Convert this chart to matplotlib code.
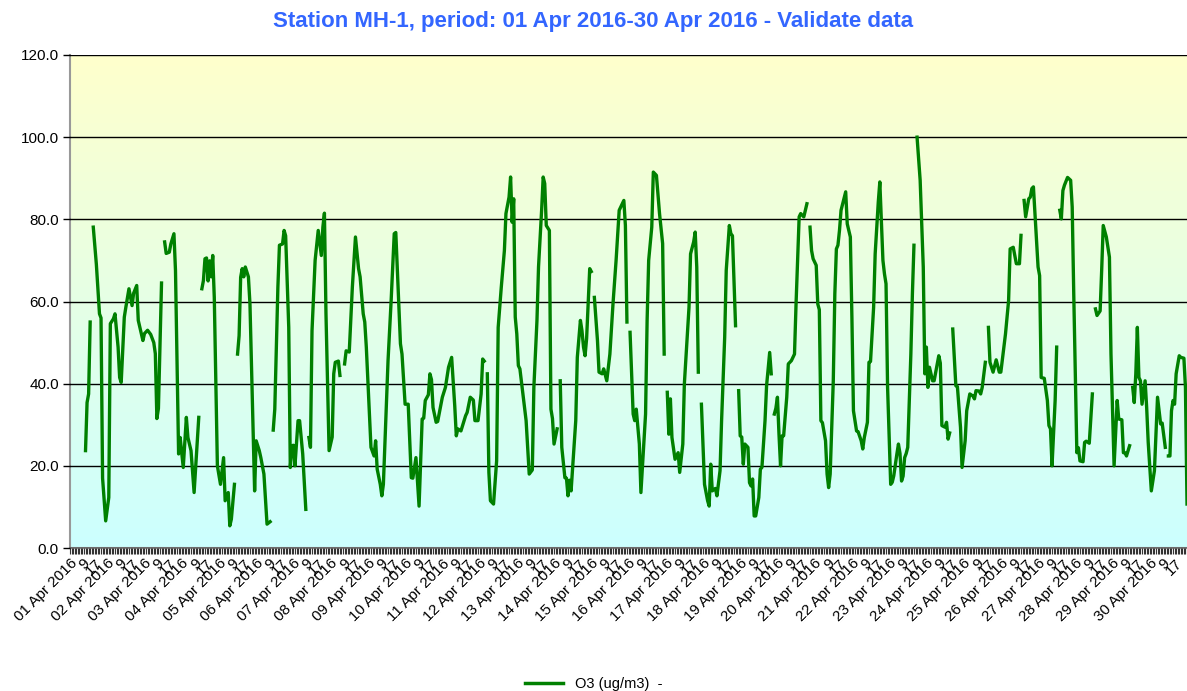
import numpy as np
import matplotlib
matplotlib.use('Agg')
import matplotlib.pyplot as plt
from matplotlib.colors import LinearSegmentedColormap
from matplotlib.lines import Line2D

nan = float('nan')

# hourly O3 readings, hour 0 = 01 Apr 2016 01:00 ; nan = missing hour (gap in line)
hours = [10, 11, 12, 13, 14,
         15, 17, 19, 20, 21, 23, 25, 26, 28, 29, 31, 32, 33, 35, 36, 38, 40, 41, 43, 44, 47, 48, 50, 52, 54, 55, 56, 57, 59, 60,
         61, 62, 64, 65, 67, 68, 70, 71, 73, 75, 76, 78, 80, 83, 84,
         85, 86, 87, 88, 89, 90, 91, 92, 93, 95, 97, 99, 100, 102, 103, 104, 106, 107,
         108, 109, 110, 111, 112, 113, 115, 116, 119, 120, 122, 123, 125, 127, 129, 130,
         131, 132, 134, 135, 137, 138, 139, 141, 142, 143, 144, 145, 147, 148, 150, 152, 153,
         154, 155, 156, 158, 160, 162, 163, 164, 165, 167, 169, 170, 171, 173, 174, 175,
         177, 178, 180, 182, 184, 186, 187, 189, 190, 191, 194, 196, 197, 198, 200, 201, 202, 205, 207, 209, 210, 213, 214,
         216, 218, 220, 221, 223, 225, 227, 228, 229, 231, 232, 233, 234, 236, 237, 240, 242, 244, 246, 248, 249, 250, 252,
         255, 256, 258, 260, 261, 263, 265, 266, 267, 268,
         269, 270, 271, 273, 275, 276, 278, 280, 281, 283, 284, 285, 286, 287, 288, 289, 290, 294, 296, 298, 299, 301, 302,
         304, 305, 306, 307, 309, 310, 311, 312, 314, 315,
         316, 317, 319, 320, 321, 322, 323, 326, 327, 329, 330, 331, 332, 333, 335, 336, 337,
         338, 340, 341, 343, 344, 346, 348, 350, 352, 354, 355, 357, 358, 359, 360,
         361, 363, 364, 365, 367, 368, 371, 372, 373, 375, 376, 378, 380, 382, 383, 384,
         385, 386, 387, 388, 390, 392, 393, 395, 396, 399, 400, 402, 403, 404, 405, 406,
         407, 409, 411, 412, 413, 414, 416, 417, 419, 420, 422, 423, 425, 426, 427, 429, 430,
         431, 432, 433, 434, 435, 437, 438, 439, 440, 441, 442, 444, 445, 446, 448, 449, 451, 452, 453,
         454, 455, 456, 457, 458, 459, 460, 462, 463, 465, 467, 468, 470, 471, 473, 475, 476,
         477, 478, 479, 481, 482, 483, 484, 485, 487, 488, 489, 490, 492, 493, 494, 495, 496, 497, 500, 501, 503, 504,
         505, 507, 508, 510, 511, 512, 514, 515, 516, 518, 519, 521, 522, 524, 525, 526, 527, 529, 530, 531, 533, 534,
         535, 536, 537, 538, 539, 540, 542, 543, 544, 545,
         546, 548, 550, 551, 552, 553, 554, 556, 557, 559, 560, 561, 562, 564, 565, 566, 567, 568,
         569, 571, 572, 574, 575, 577, 578, 580, 582, 583, 584, 586, 587, 588, 590, 591,
         592, 593, 595, 597, 599, 600, 603, 605, 606, 608, 610, 612, 613, 614,
         615, 616, 618, 619, 620, 621, 624, 625, 626, 628, 630, 631, 632, 633, 635, 636, 637,
         638, 639, 640, 641, 643, 645, 646, 647, 649, 650, 651, 653, 654, 655, 657, 659, 660,
         661, 662, 664, 665, 666, 668, 670, 671, 673, 675, 676, 678, 679, 680, 681, 683, 684,
         685, 686, 687, 688, 689, 690, 691, 693, 694, 695, 697, 699, 701, 703, 704, 706, 707,
         708, 709, 710, 711, 712, 713, 715, 716, 718, 719, 720]

o3 = [23.7, 35.4, 37.5, 55, nan,
      78.1, 69, 57, 56, 17, 6.6, 12.3, 54.6, 55.8, 57, 48.9, 41.5, 40.3, 56.2, 58.6, 63.1, 59, 62, 63.9, 55.4, 50.5, 52.2, 53, 52, 50, 47.3, 31.5, 34, 64.5, nan,
      74.5, 71.7, 72, 74, 76.5, 67.5, 22.9, 26.9, 19.6, 31.8, 26.9, 23.7, 13.5, 31.8, nan,
      63.1, 65.1, 70.4, 70.6, 65, 69.9, 66, 71.2, 61, 20, 15.5, 22, 11.5, 13.5, 5.4, 7, 15.5, nan,
      47.2, 51.7, 65.9, 68, 66, 68.4, 66, 59.4, 13.9, 26.1, 23.7, 22, 18, 5.8, 6.4, nan,
      28.7, 33.8, 63.5, 73.7, 74, 77.3, 76, 53.7, 19.6, 24.9, 25, 20, 31, 31, 22.9, 9.4, nan,
      26.9, 24.5, 52.9, 70, 77.3, 71.2, 78.1, 81.5, 57, 23.7, 27, 42.4, 45.2, 45.5, 42, nan,
      44.8, 48, 47.7, 63.5, 75.7, 68, 66, 57, 55, 48.9, 24.5, 22.4, 26.1, 19.2, 15.5, 12.7, 15.5, 45.6, 60.2, 76.5, 76.8, 49.7, 47.2,
      35, 35, 17.1, 17, 22, 10.2, 31.4, 31.6, 35.9, 37.3, 42.4, 41, 34.2, 30.6, 30.8, 36.7, 39.1, 44, 46.4, 34.6, 27.3, 29, 28.5,
      32.2, 33, 36.7, 36, 31, 31, 37.5, 46, 45.5, nan,
      42.4, 18.4, 11.5, 10.7, 21.2, 53.7, 63.5, 72.4, 81.4, 85.4, 90.3, 79.3, 85, 56.2, 52.1, 44.4, 43.6, 31, 18, 19, 39.1, 55.4, 68.4,
      82.2, 90.3, 88.7, 78.5, 77.3, 33.8, 31.5, 25.3, 29, nan,
      40.7, 24.5, 17.1, 17, 12.7, 16.5, 13.9, 31, 46.4, 55.4, 52.9, 48.9, 46.8, 51, 68, 67.3, nan,
      61, 50.5, 42.8, 42.4, 43.6, 40.7, 47.2, 59.4, 70, 82.2, 83, 84.6, 78.5, 55, nan,
      52.5, 32.6, 31, 33.8, 25.3, 13.5, 32.6, 55.4, 70, 78.1, 91.5, 90.7, 81.4, 74.1, 47.2, nan,
      37.9, 27.7, 36.3, 26.9, 21.6, 23.2, 18.4, 25.3, 39.9, 58.6, 71.6, 74.5, 76.9, 68.4, 42.8, nan,
      35, 15.5, 11.5, 10.2, 20.4, 13.9, 14.5, 12.7, 18.8, 31, 51.3, 67.6, 78.5, 76.5, 76, 54.1, nan,
      38.3, 27.3, 27, 20.4, 25.3, 24.5, 15.9, 15.1, 16.8, 7.8, 7.8, 12.3, 19.2, 19.6, 31, 39.5, 47.6, 42.4, nan,
      32.6, 34, 36.7, 27.7, 20, 27.3, 27.3, 36.7, 44.8, 45.6, 47.2, 59.4, 80.6, 81.4, 80.6, 83.8, nan,
      78.1, 72.4, 70.4, 68.8, 59.4, 58, 31, 30.5, 26.1, 18, 14.7, 18, 40.7, 61.9, 72.8, 73.7, 77.3, 82.2, 86.7, 78.9, 75.7, 56.2,
      33.4, 28.5, 28.3, 26.1, 24.1, 26.9, 30.6, 45.2, 45.4, 58.6, 71.6, 84.2, 89.1, 70, 66.7, 64.3, 39.1, 15.5, 16, 17.6, 22.9, 25.3,
      23, 16.3, 17.5, 22, 23, 24.5, 47.2, 61.9, 73.7, nan,
      100, 89.5, 68.4, 42.4, 48.9, 39.1, 44, 40.7, 40.7, 44.8, 46.8, 45, 29.8, 29.4, 30.6, 26.5, 28, nan,
      53.3, 39.5, 39.3, 29.4, 19.6, 26.1, 33.4, 37.5, 37, 36.3, 38.3, 38.2, 37.5, 39.1, 45.2, nan,
      53.7, 45.2, 42.8, 45.8, 42.8, 42.8, 52.1, 60.2, 72.8, 73.2, 69.2, 69.2, 76.1, nan,
      84.6, 80.6, 85, 85.4, 87.5, 87.9, 68.4, 66.3, 41.5, 41.3, 35.9, 29.8, 29, 20, 35.9, 48.9, nan,
      82.2, 80.1, 87, 88.3, 90.2, 89.5, 83, 61.9, 23.2, 24.4, 21.2, 21, 25.7, 26, 25.5, 37.5, nan,
      58.2, 56.6, 57.7, 67.6, 78.5, 75.7, 70.8, 47.2, 20, 35.9, 31.4, 31.2, 23.2, 23.2, 22.4, 24.9, nan,
      39.1, 35.4, 42.4, 53.7, 41.5, 40.7, 35, 40.7, 34.2, 25.7, 13.9, 18.8, 36.7, 30.2, 30.4, 24.5, nan,
      22.4, 22.4, 33.4, 35.9, 35, 42.4, 46.8, 46.4, 46.2, 39.1, 10.7]

days = list(range(1, 31))
day_labels = ['%02d Apr 2016' % d for d in days]
hour_labels = ['9', '17']

fig = plt.figure(figsize=(11.87, 6.91), dpi=100)
ax = fig.add_axes([70 / 1187, 143 / 691, 1117 / 1187, 493 / 691])

# background gradient cyan -> yellow
cmap = LinearSegmentedColormap.from_list('bg', ['#ccffff', '#ffffcc'])
grad = np.linspace(0, 1, 256).reshape(-1, 1)
ax.imshow(grad, extent=[0, 720, 0, 120], aspect='auto', cmap=cmap, origin='lower', zorder=0)

ax.plot(hours, o3, color='#008000', lw=2.4, zorder=3, solid_joinstyle='round')

ax.set_xlim(0, 720)
ax.set_ylim(0, 120)

ax.set_yticks(range(0, 121, 20))
ax.set_yticklabels(['%.1f' % v for v in range(0, 121, 20)])
ax.yaxis.grid(True, color='black', lw=1)
ax.set_axisbelow(False)

ticks = []
labels = []
for i, d in enumerate(day_labels):
    ticks += [i * 24, i * 24 + 8, i * 24 + 16]
    labels += [d] + hour_labels
ax.set_xticks(ticks)
ax.set_xticklabels(labels, rotation=45, ha='right', rotation_mode='anchor')
ax.set_xticks(range(0, 721), minor=True)
ax.tick_params(axis='x', which='both', length=4, width=0.8, color='#333333', labelsize=11, pad=2)
ax.tick_params(axis='y', length=5, width=1, color='black', labelsize=11, pad=3)
for lab in ax.get_xticklabels() + ax.get_yticklabels():
    lab.set_fontfamily('Liberation Sans')

for s in ['top', 'right']:
    ax.spines[s].set_visible(False)
ax.spines['left'].set_color('#999999')
ax.spines['left'].set_linewidth(1.5)
ax.spines['bottom'].set_color('#888888')
ax.spines['bottom'].set_linewidth(1.5)

fig.text(0.5, 1 - 22 / 691, 'Station MH-1, period: 01 Apr 2016-30 Apr 2016 - Validate data',
         ha='center', va='center', color='#3366ff', fontweight='bold', fontsize=16,
         fontfamily='Liberation Sans')

handle = Line2D([], [], color='#008000', lw=2.5)
fig.legend([handle], ['O3 (ug/m3)  -'], loc='center', bbox_to_anchor=(0.5, 1 - 684 / 691),
           frameon=False, prop={'family': 'Liberation Sans', 'size': 10.5}, handlelength=2.6)

fig.savefig('out.png', dpi=100)
